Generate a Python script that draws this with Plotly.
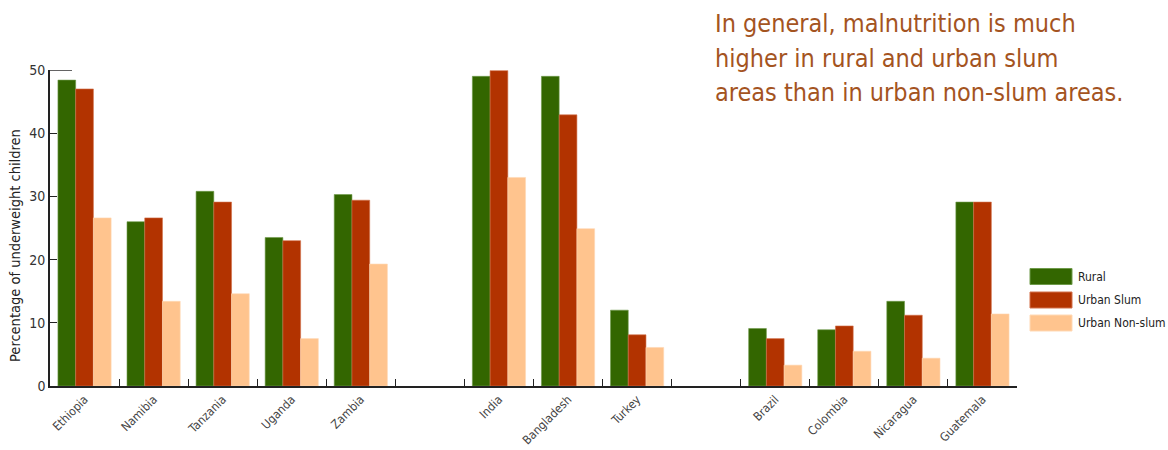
import plotly.graph_objects as go

categories = ["Ethiopia", "Namibia", "Tanzania", "Uganda", "Zambia", " ",
              "India", "Bangladesh", "Turkey", "  ",
              "Brazil", "Colombia", "Nicaragua", "Guatemala"]
rural = [48.4, 26.0, 30.8, 23.5, 30.3, None, 49.0, 49.0, 12.0, None, 9.1, 8.9, 13.4, 29.1]
urban_slum = [47.0, 26.6, 29.1, 23.0, 29.4, None, 49.9, 42.9, 8.1, None, 7.5, 9.5, 11.2, 29.1]
urban_non_slum = [26.6, 13.4, 14.6, 7.5, 19.3, None, 33.0, 24.9, 6.1, None, 3.3, 5.5, 4.4, 11.4]

series_names = ["Rural", "Urban Slum", "Urban Non-slum"]
series_values = [rural, urban_slum, urban_non_slum]
series_colors = ["#336600", "#B23300", "#FFC48E"]
series_edges = ["#6E9A4A", "#D2714A", "#FFD9B5"]

y_ticks = [0, 10, 20, 30, 40, 50]
y_title = "Percentage of underweight children"
headline_lines = ["In general, malnutrition is much",
                  "higher in rural and urban slum",
                  "areas than in urban non-slum areas."]

FONT = "DejaVu Sans Condensed, Liberation Sans Narrow, Arial Narrow, Roboto Condensed, Liberation Sans, sans-serif"

fig = go.Figure()
for name, vals, col, edge in zip(series_names, series_values, series_colors, series_edges):
    fig.add_trace(go.Bar(x=categories, y=vals, name=name,
                         marker=dict(color=col, line=dict(color=edge, width=0.6)),
                         showlegend=False))

W, H = 1168, 450
L, R, T, B = 50, 151, 70, 64
pw, ph = W - L - R, H - T - B

fig.update_layout(
    width=W, height=H,
    margin=dict(l=L, r=R, t=T, b=B, autoexpand=False),
    plot_bgcolor="white", paper_bgcolor="white",
    barmode="group", bargap=0.23, bargroupgap=0.0,
    font=dict(family=FONT, color="#333333"),
)
fig.update_xaxes(
    type="category", categoryorder="array", categoryarray=categories,
    tickson="boundaries", ticks="inside", ticklen=7, tickwidth=1.3, tickcolor="#222222",
    showline=True, linecolor="#222222", linewidth=1.6,
    showgrid=False, zeroline=False, tickangle=-45,
    tickfont=dict(family=FONT, size=12, color="#444444"),
    automargin=False,
)
fig.update_yaxes(
    range=[0, 50], tickvals=y_ticks, ticks="inside", ticklen=7, tickwidth=1.3,
    tickcolor="#222222", showline=True, linecolor="#222222", linewidth=1.6,
    showgrid=False, zeroline=False,
    tickfont=dict(family=FONT, size=14, color="#333333"),
    automargin=False,
)

# longer top tick at 50
fig.add_shape(type="line", xref="paper", yref="y", x0=0, x1=22 / pw, y0=50, y1=50,
              line=dict(color="#222222", width=1.4))

# y-axis title
fig.add_annotation(text=y_title, xref="paper", yref="paper",
                   x=-(L - 15) / pw, y=(386 - 246) / ph, textangle=-90,
                   showarrow=False, xanchor="center", yanchor="middle",
                   font=dict(family=FONT, size=14.5, color="#222222"))

# headline, one annotation per line for the reference's line spacing
line_centers = [23, 58, 92]
for txt, cy in zip(headline_lines, line_centers):
    fig.add_annotation(text=txt, xref="paper", yref="paper",
                       x=(713 - L) / pw, y=(386 - cy) / ph, xanchor="left", yanchor="middle",
                       align="left", showarrow=False,
                       font=dict(family=FONT, size=25, color="#A4541F"))

# custom legend
sw_x0, sw_x1 = 1030, 1072
row_y = [276.5, 300, 323]
for name, col, edge, cy in zip(series_names, series_colors, series_edges, row_y):
    fig.add_shape(type="rect", xref="paper", yref="paper",
                  x0=(sw_x0 - L) / pw, x1=(sw_x1 - L) / pw,
                  y0=(386 - (cy + 8)) / ph, y1=(386 - (cy - 8)) / ph,
                  fillcolor=col, line=dict(color=edge, width=1))
    fig.add_annotation(text=name, xref="paper", yref="paper",
                       x=(1076 - L) / pw, y=(386 - cy) / ph,
                       xanchor="left", yanchor="middle", showarrow=False,
                       font=dict(family=FONT, size=12, color="#222222"))

fig.write_html("out.html")
